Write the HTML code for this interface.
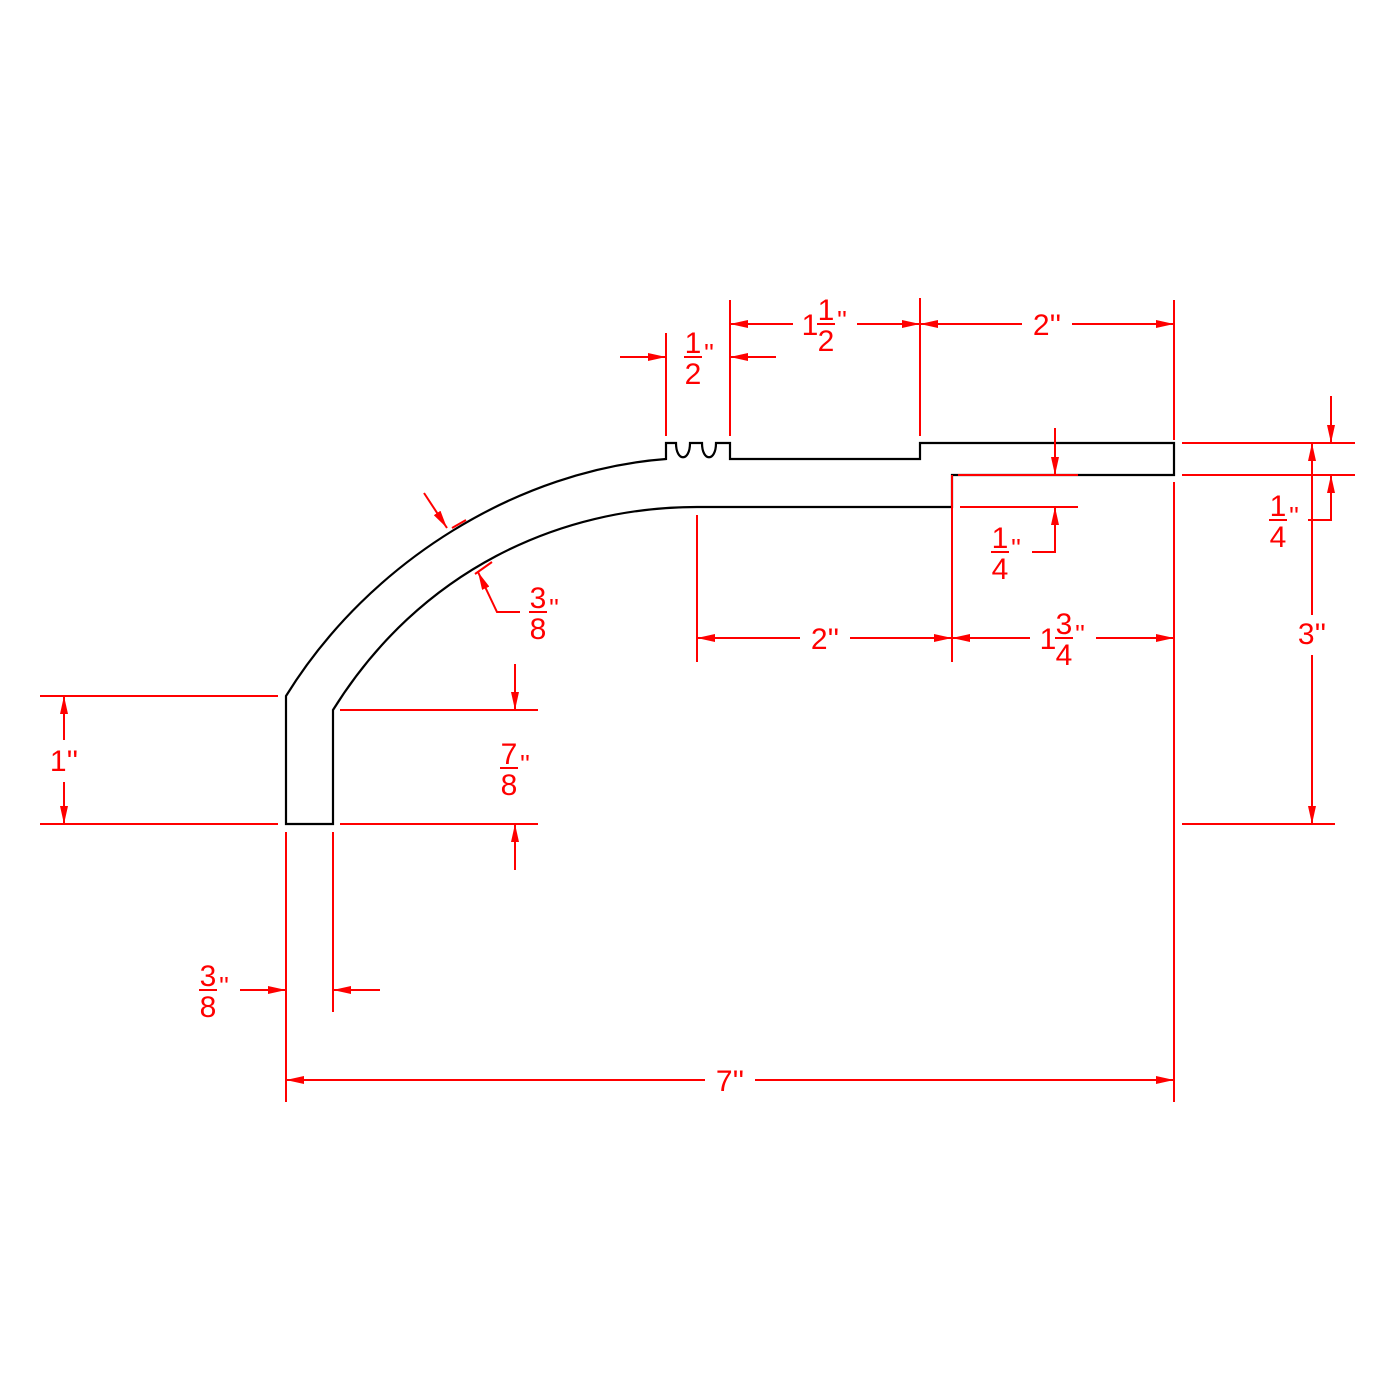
<!DOCTYPE html>
<html><head><style>html,body{margin:0;padding:0;background:#fff}svg{display:block}</style></head>
<body>
<svg width="1400" height="1400" viewBox="0 0 1400 1400" xmlns="http://www.w3.org/2000/svg">
<defs>
<marker id="a" viewBox="0 0 18 8" refX="18" refY="4" markerWidth="18" markerHeight="8" markerUnits="userSpaceOnUse" orient="auto"><path d="M0,0 L18,4 L0,8 Z" fill="#f00"/></marker>
</defs>
<g fill="none" stroke="#000" stroke-width="2.2">
<path d="M286,824 L286,696 C370,560 520,470 666,459 L666,443 L676,443 C676,462 690,462 690,443 L702,443 C702,462 716,462 716,443 L730,443 L730,459 L920,459 L920,443 L1174,443 L1174,475 L952,475 L952,507 L697,507 C560,507 420,570 333,710 L333,824 Z"/>
</g>
<g stroke="#f00" stroke-width="2" fill="none">
<line x1="286" y1="832" x2="286" y2="1102"/>
<line x1="1174" y1="300" x2="1174" y2="440"/>
<line x1="1174" y1="482" x2="1174" y2="1102"/>
<line x1="705" y1="1080" x2="286" y2="1080" marker-end="url(#a)"/>
<line x1="755" y1="1080" x2="1174" y2="1080" marker-end="url(#a)"/>
<line x1="333" y1="832" x2="333" y2="1012"/>
<line x1="240" y1="990" x2="286" y2="990" marker-end="url(#a)"/>
<line x1="380" y1="990" x2="333" y2="990" marker-end="url(#a)"/>
<line x1="40" y1="696" x2="278" y2="696"/>
<line x1="40" y1="824" x2="278" y2="824"/>
<line x1="64" y1="740" x2="64" y2="696" marker-end="url(#a)"/>
<line x1="64" y1="782" x2="64" y2="824" marker-end="url(#a)"/>
<line x1="340" y1="710" x2="538" y2="710"/>
<line x1="340" y1="824" x2="538" y2="824"/>
<line x1="515" y1="664" x2="515" y2="710" marker-end="url(#a)"/>
<line x1="515" y1="870" x2="515" y2="824" marker-end="url(#a)"/>
<line x1="424" y1="493" x2="447" y2="528" marker-end="url(#a)"/>
<line x1="452" y1="528" x2="466" y2="520"/>
<polyline points="520,612 497,612 478,572" marker-end="url(#a)"/>
<line x1="475" y1="574" x2="492" y2="562"/>
<line x1="697" y1="515" x2="697" y2="662"/>
<line x1="952" y1="475" x2="952" y2="662"/>
<line x1="800" y1="638" x2="697" y2="638" marker-end="url(#a)"/>
<line x1="850" y1="638" x2="952" y2="638" marker-end="url(#a)"/>
<line x1="1030" y1="638" x2="952" y2="638" marker-end="url(#a)"/>
<line x1="1096" y1="638" x2="1174" y2="638" marker-end="url(#a)"/>
<line x1="958" y1="475" x2="1078" y2="475"/>
<line x1="960" y1="507" x2="1078" y2="507"/>
<line x1="1055" y1="428" x2="1055" y2="475" marker-end="url(#a)"/>
<polyline points="1032,552 1055,552 1055,507" marker-end="url(#a)"/>
<line x1="1182" y1="443" x2="1355" y2="443"/>
<line x1="1182" y1="475" x2="1355" y2="475"/>
<line x1="1182" y1="824" x2="1335" y2="824"/>
<line x1="1312" y1="615" x2="1312" y2="443" marker-end="url(#a)"/>
<line x1="1312" y1="655" x2="1312" y2="824" marker-end="url(#a)"/>
<line x1="1331" y1="396" x2="1331" y2="443" marker-end="url(#a)"/>
<polyline points="1308,520 1331,520 1331,475" marker-end="url(#a)"/>
<line x1="666" y1="333" x2="666" y2="436"/>
<line x1="730" y1="300" x2="730" y2="436"/>
<line x1="920" y1="298" x2="920" y2="436"/>
<line x1="620" y1="357" x2="666" y2="357" marker-end="url(#a)"/>
<line x1="776" y1="357" x2="730" y2="357" marker-end="url(#a)"/>
<line x1="793" y1="324" x2="730" y2="324" marker-end="url(#a)"/>
<line x1="857" y1="324" x2="920" y2="324" marker-end="url(#a)"/>
<line x1="1022" y1="324" x2="920" y2="324" marker-end="url(#a)"/>
<line x1="1072" y1="324" x2="1174" y2="324" marker-end="url(#a)"/>
<line x1="684" y1="357" x2="702" y2="357"/>
<line x1="817" y1="324" x2="835" y2="324"/>
<line x1="1055" y1="638" x2="1073" y2="638"/>
<line x1="991" y1="552" x2="1009" y2="552"/>
<line x1="1269" y1="520" x2="1287" y2="520"/>
<line x1="529" y1="612" x2="547" y2="612"/>
<line x1="500" y1="768" x2="518" y2="768"/>
<line x1="199" y1="990" x2="217" y2="990"/>
</g>
<g fill="#f00" font-family="Liberation Sans, sans-serif" font-size="30" text-anchor="middle">
<text x="730" y="1091">7''</text>
<text x="64" y="771">1''</text>
<text x="825" y="649">2''</text>
<text x="1047" y="335">2''</text>
<text x="1312" y="644">3''</text>
<text x="693" y="353">1</text><text x="693" y="384">2</text><text x="709" y="362" font-size="26">''</text>
<text x="810" y="335">1</text><text x="826" y="320">1</text><text x="826" y="351">2</text><text x="842" y="329" font-size="26">''</text>
<text x="1048" y="649">1</text><text x="1064" y="634">3</text><text x="1064" y="665">4</text><text x="1080" y="643" font-size="26">''</text>
<text x="1000" y="548">1</text><text x="1000" y="579">4</text><text x="1016" y="557" font-size="26">''</text>
<text x="1278" y="516">1</text><text x="1278" y="547">4</text><text x="1294" y="525" font-size="26">''</text>
<text x="538" y="608">3</text><text x="538" y="639">8</text><text x="554" y="617" font-size="26">''</text>
<text x="509" y="764">7</text><text x="509" y="795">8</text><text x="525" y="773" font-size="26">''</text>
<text x="208" y="986">3</text><text x="208" y="1017">8</text><text x="224" y="995" font-size="26">''</text>
</g>
</svg>
</body></html>
